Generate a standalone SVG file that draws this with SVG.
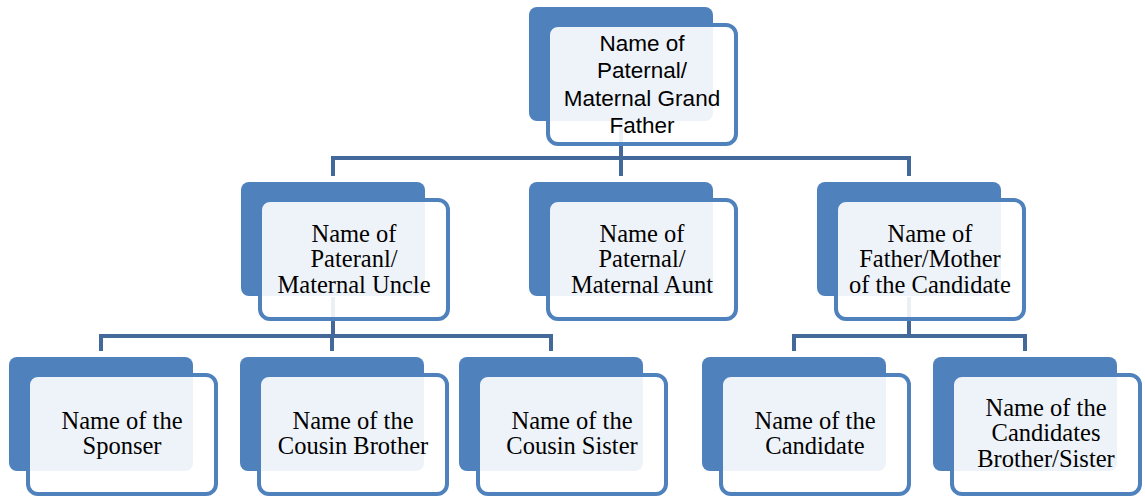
<svg xmlns="http://www.w3.org/2000/svg" width="1145" height="497" viewBox="0 0 1145 497">
<style>
.back{fill:#4F81BD}
.front{fill:#FFFFFF;fill-opacity:0.9;stroke:#4F81BD;stroke-width:4}
.conn{fill:none;stroke:#42699A;stroke-width:4;stroke-linejoin:miter;stroke-linecap:butt}
.ts{font-family:"Liberation Sans",Arial,sans-serif;font-size:22.5px;fill:#000;text-anchor:middle}
.tr{font-family:"Liberation Serif","Times New Roman",serif;font-size:24.5px;fill:#000;text-anchor:middle}
</style>
<rect width="1145" height="497" fill="#FFFFFF"/>
<g id="connectors">
<path class="conn" d="M621,120 V158 M333,176 V158 H909 V176 M621,158 V176"/>
<path class="conn" d="M333,297 V336 M101,351 V336 H551 V351 M332,336 V351"/>
<path class="conn" d="M909,297 V336 M794,351 V336 H1025 V351"/>
</g>
<g id="n-grandfather">
<rect class="back" x="529" y="7" width="184" height="114" rx="8"/>
<rect class="front" x="548" y="25" width="188" height="119" rx="10"/>
<text class="ts"><tspan x="642" y="51">Name of</tspan><tspan x="642" y="78">Paternal/</tspan><tspan x="642" y="105.5">Maternal Grand</tspan><tspan x="642" y="132.5">Father</tspan></text>
</g>
<g id="n-uncle">
<rect class="back" x="241" y="182" width="184" height="114" rx="8"/>
<rect class="front" x="260" y="200" width="188" height="119" rx="10"/>
<text class="tr"><tspan x="354" y="241.5">Name of</tspan><tspan x="354" y="267">Pateranl/</tspan><tspan x="354" y="292.5">Maternal Uncle</tspan></text>
</g>
<g id="n-aunt">
<rect class="back" x="529" y="182" width="184" height="114" rx="8"/>
<rect class="front" x="548" y="200" width="188" height="119" rx="10"/>
<text class="tr"><tspan x="642" y="241.5">Name of</tspan><tspan x="642" y="267">Paternal/</tspan><tspan x="642" y="292.5">Maternal Aunt</tspan></text>
</g>
<g id="n-parent">
<rect class="back" x="817" y="182" width="184" height="114" rx="8"/>
<rect class="front" x="836" y="200" width="188" height="119" rx="10"/>
<text class="tr"><tspan x="930" y="241.5">Name of</tspan><tspan x="930" y="267">Father/Mother</tspan><tspan x="930" y="292.5">of the Candidate</tspan></text>
</g>
<g id="n-sponser">
<rect class="back" x="9" y="357" width="184" height="114" rx="8"/>
<rect class="front" x="28" y="375" width="188" height="119" rx="10"/>
<text class="tr"><tspan x="122" y="428.5">Name of the</tspan><tspan x="122" y="454">Sponser</tspan></text>
</g>
<g id="n-cousin-brother">
<rect class="back" x="240" y="357" width="184" height="114" rx="8"/>
<rect class="front" x="259" y="375" width="188" height="119" rx="10"/>
<text class="tr"><tspan x="353" y="428.5">Name of the</tspan><tspan x="353" y="454">Cousin Brother</tspan></text>
</g>
<g id="n-cousin-sister">
<rect class="back" x="459" y="357" width="184" height="114" rx="8"/>
<rect class="front" x="478" y="375" width="188" height="119" rx="10"/>
<text class="tr"><tspan x="572" y="428.5">Name of the</tspan><tspan x="572" y="454">Cousin Sister</tspan></text>
</g>
<g id="n-candidate">
<rect class="back" x="702" y="357" width="184" height="114" rx="8"/>
<rect class="front" x="721" y="375" width="188" height="119" rx="10"/>
<text class="tr"><tspan x="815" y="428.5">Name of the</tspan><tspan x="815" y="454">Candidate</tspan></text>
</g>
<g id="n-siblings">
<rect class="back" x="933" y="357" width="184" height="114" rx="8"/>
<rect class="front" x="952" y="375" width="188" height="119" rx="10"/>
<text class="tr"><tspan x="1046" y="415.5">Name of the</tspan><tspan x="1046" y="441">Candidates</tspan><tspan x="1046" y="466.5">Brother/Sister</tspan></text>
</g>
</svg>
